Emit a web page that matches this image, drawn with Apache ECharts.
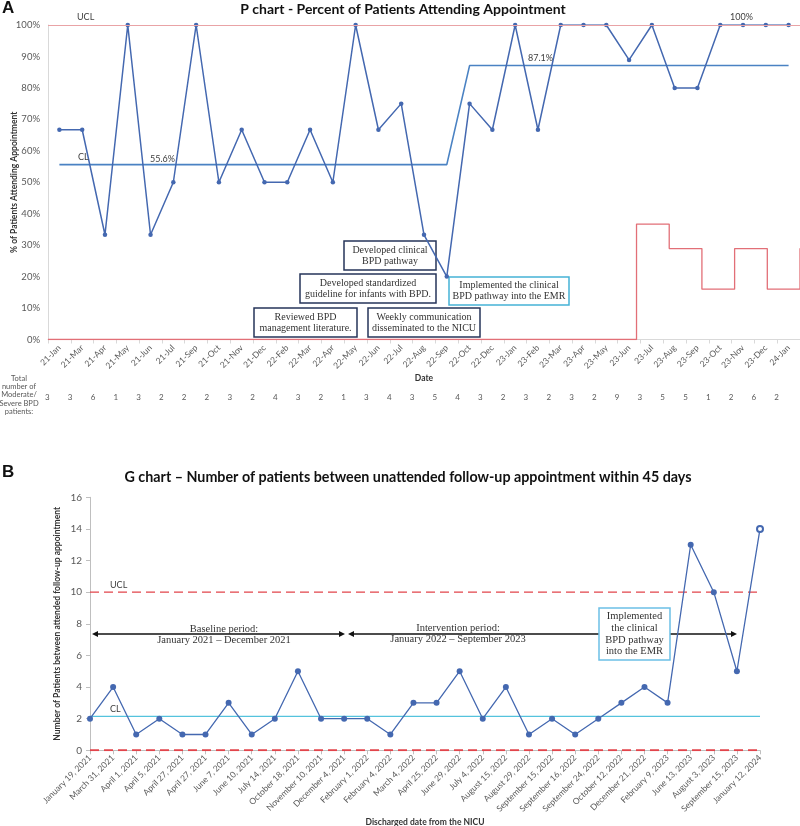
<!DOCTYPE html>
<html><head><meta charset="utf-8">
<script src="https://cdn.jsdelivr.net/npm/echarts/dist/echarts.min.js"></script>
<style>html,body{margin:0;padding:0;background:#fff}#c{width:800px;height:826px}</style>
</head><body><div id="c"></div>
<script>
// ---------- Panel A data (P chart) ----------
const pCategories = ['21-Jan','21-Mar','21-Apr','21-May','21-Jun','21-Jul','21-Sep','21-Oct','21-Nov','21-Dec','22-Feb','22-Mar','22-Apr','22-May','22-Jun','22-Jul','22-Aug','22-Sep','22-Oct','22-Dec','23-Jan','23-Feb','23-Mar','23-Apr','23-May','23-Jun','23-Jul','23-Aug','23-Sep','23-Oct','23-Nov','23-Dec','24-Jan'];
const pValues = [66.7,66.7,33.3,100,33.3,50,100,50,66.7,50,50,66.7,50,100,66.7,75,33.3,20,75,66.7,100,66.7,100,100,100,88.9,100,80,80,100,100,100,100];
const pCL = [55.6,55.6,55.6,55.6,55.6,55.6,55.6,55.6,55.6,55.6,55.6,55.6,55.6,55.6,55.6,55.6,55.6,55.6,87.1,87.1,87.1,87.1,87.1,87.1,87.1,87.1,87.1,87.1,87.1,87.1,87.1,87.1,87.1];
const pUCL = 100;
const pLCL = [0,0,0,0,0,0,0,0,0,0,0,0,0,0,0,0,0,0,0,36.7,28.9,16,28.9,16,28.9];
const pTotals = [3,3,6,1,3,2,2,2,3,2,4,3,2,1,3,4,3,5,4,3,2,3,2,3,2,9,3,5,5,1,2,6,2];

// ---------- Panel B data (G chart) ----------
const gCategories = ['January 19, 2021','March 31, 2021','April 1, 2021','April 5, 2021','April 27, 2021','April 27, 2021','June 7, 2021','June 10, 2021','July 14, 2021','October 18, 2021','November 10, 2021','December 4, 2021','February 1, 2022','February 4, 2022','March 4, 2022','April 25, 2022','June 29, 2022','July 4, 2022','August 15, 2022','August 29, 2022','September 15, 2022','September 16, 2022','September 24, 2022','October 12, 2022','December 21, 2022','February 9, 2023','June 13, 2023','August 3, 2023','September 15, 2023','January 12, 2024'];
const gValues = [2,4,1,2,1,1,3,1,2,5,2,2,2,1,3,3,5,2,4,1,2,1,2,3,4,3,13,10,5,14];
const gCL = 2.15;
const gUCL = 10;
const gLCL = 0;

const FONT = 'Lato';
const SERIF = 'Liberation Serif';
const GREY = '#595959';

function box(x, y, w, h, text, color, fs, lh) {
  return {
    type: 'group', z: 1, children: [
      {type: 'rect', shape: {x: x, y: y, width: w, height: h}, style: {fill: '#fff', stroke: color, lineWidth: 1.5}},
      {type: 'text', style: {x: x + w / 2, y: y + h / 2, text: text, align: 'center', verticalAlign: 'middle', font: fs + 'px ' + SERIF, fill: '#333', lineHeight: lh}}
    ]
  };
}
function txt(x, y, text, size, opts) {
  opts = opts || {};
  return {type: 'text', z: 5, style: Object.assign({x: x, y: y, text: text, align: 'left', verticalAlign: 'middle', font: (opts.weight || 'normal') + ' ' + size + 'px ' + (opts.family || FONT), fill: opts.fill || '#404040'}, opts.extra || {})};
}
function arrow(x1, x2, y) {
  const hs = 6, hw = 3;
  return {
    type: 'group', z: 1, children: [
      {type: 'line', shape: {x1: x1 + 3, y1: y, x2: x2 - 3, y2: y}, style: {stroke: '#111', lineWidth: 1.3}},
      {type: 'polygon', shape: {points: [[x1, y], [x1 + hs, y - hw], [x1 + hs, y + hw]]}, style: {fill: '#111'}},
      {type: 'polygon', shape: {points: [[x2, y], [x2 - hs, y - hw], [x2 - hs, y + hw]]}, style: {fill: '#111'}}
    ]
  };
}
function constLine(name, v, color, width, type) {
  return {type: 'line', name: name, xAxisIndex: 3, yAxisIndex: 1, data: gCategories.map(() => v), showSymbol: false, silent: true,
    lineStyle: {color: color, width: width, type: type}, z: 2};
}
const nameStyle = {fontFamily: FONT, fontWeight: 'bold', fontSize: 8.5, color: '#333'};

const chart = echarts.init(document.getElementById('c'));
chart.setOption({
  animation: false,
  grid: [
    {left: 48, top: 25, width: 752, height: 314.5, outerBoundsMode: 'none', containLabel: false},
    {left: 90, top: 497.3, width: 670, height: 253, outerBoundsMode: 'none', containLabel: false}
  ],
  xAxis: [
    {type: 'category', gridIndex: 0, data: pCategories, boundaryGap: true,
      name: 'Date', nameLocation: 'middle', nameGap: 34, nameMoveOverlap: false, nameTextStyle: nameStyle,
      axisLine: {lineStyle: {color: '#d9d9d9'}}, axisTick: {show: true, length: 4, lineStyle: {color: '#d9d9d9'}},
      axisLabel: {interval: 0, rotate: 45, fontFamily: FONT, fontSize: 8.5, color: GREY, margin: 7}},
    {type: 'category', gridIndex: 0, data: pTotals.map(String), position: 'bottom', offset: 46, boundaryGap: true,
      axisLine: {show: false}, axisTick: {show: false},
      axisLabel: {interval: 0, fontFamily: FONT, fontSize: 8, color: GREY, padding: [0, 24, 0, 0]}},
    {type: 'value', gridIndex: 0, min: 0, max: 23, show: false},
    {type: 'category', gridIndex: 1, data: gCategories, boundaryGap: false,
      name: 'Discharged date from the NICU', nameLocation: 'middle', nameGap: 67, nameMoveOverlap: false, nameTextStyle: nameStyle,
      axisLine: {lineStyle: {color: '#bfbfbf'}}, axisTick: {show: true, length: 4, alignWithLabel: true, lineStyle: {color: '#bfbfbf'}},
      axisLabel: {interval: 0, rotate: 45, fontFamily: FONT, fontSize: 8.5, color: GREY, margin: 6}}
  ],
  yAxis: [
    {type: 'value', gridIndex: 0, min: 0, max: 100, interval: 10,
      name: '% of Patients Attending Appointment', nameLocation: 'middle', nameGap: 29, nameMoveOverlap: false, nameTextStyle: nameStyle,
      axisLine: {show: true, lineStyle: {color: '#d9d9d9'}}, axisTick: {show: false}, splitLine: {show: false},
      axisLabel: {fontFamily: FONT, fontSize: 9.5, color: GREY, formatter: '{value}%', margin: 8}},
    {type: 'value', gridIndex: 1, min: 0, max: 16, interval: 2,
      name: 'Number of Patients between attended follow-up appointment', nameLocation: 'middle', nameGap: 28, nameMoveOverlap: false, nameTextStyle: nameStyle,
      axisLine: {show: true, lineStyle: {color: '#bfbfbf'}}, axisTick: {show: true, length: 4, lineStyle: {color: '#bfbfbf'}}, splitLine: {show: false},
      axisLabel: {fontFamily: FONT, fontSize: 10, color: GREY, margin: 8}}
  ],
  series: [
    {type: 'line', name: 'LCL', xAxisIndex: 2, yAxisIndex: 0, data: pLCL.map((v, i) => [i, v]), step: 'start', showSymbol: false, silent: true,
      lineStyle: {color: '#e26f77', width: 1.3}, z: 2},
    {type: 'line', name: 'CL', xAxisIndex: 0, yAxisIndex: 0, data: pCL, showSymbol: false, silent: true,
      lineStyle: {color: '#4a82c3', width: 1.6}, z: 3},
    {type: 'line', name: 'P', xAxisIndex: 0, yAxisIndex: 0, data: pValues, symbol: 'circle', symbolSize: 4.5,
      itemStyle: {color: '#4468b0'}, lineStyle: {color: '#4468b0', width: 1.5}, z: 4,
      markLine: {silent: true, symbol: 'none', label: {show: false}, lineStyle: {color: '#e9a3a6', width: 1, type: 'solid'}, data: [{yAxis: pUCL}]}},
    constLine('G CL', gCL, '#55c3dd', 1.2, 'solid'),
    constLine('G UCL', gUCL, '#e2444b', 1.3, [9, 5]),
    constLine('G LCL', gLCL, '#e2444b', 2, [9, 5]),
    {type: 'line', name: 'G', xAxisIndex: 3, yAxisIndex: 1, symbol: 'circle', symbolSize: 6,
      data: gValues.map((v, i) => i === gValues.length - 1 ? {value: v, symbol: 'emptyCircle', symbolSize: 6} : v),
      itemStyle: {color: '#4468b0'}, lineStyle: {color: '#4468b0', width: 1.3}, z: 4}
  ],
  graphic: [
    txt(2, 8, 'A', 17, {weight: 'bold', family: 'Liberation Sans', fill: '#111'}),
    txt(403, 9, 'P chart - Percent of Patients Attending Appointment', 14, {weight: 'bold', fill: '#111', extra: {align: 'center'}}),
    txt(77, 17, 'UCL', 9),
    txt(78, 157, 'CL', 9),
    txt(150, 159, '55.6%', 9),
    txt(528, 58, '87.1%', 9),
    txt(730, 17, '100%', 9),
    {type: 'text', z: 5, style: {x: 19, y: 374, text: 'Total\nnumber of\nModerate/\nSevere BPD\npatients:', align: 'center', verticalAlign: 'top', font: '7.5px ' + FONT, fill: GREY, lineHeight: 8.4}},
    box(254, 308, 103, 29, 'Reviewed BPD\nmanagement literature.', '#263559', 10, 11),
    box(300, 274, 136, 29, 'Developed standardized\nguideline for infants with BPD.', '#263559', 10, 11),
    box(344, 241, 92, 29, 'Developed clinical\nBPD pathway', '#263559', 10, 11),
    box(368, 308, 112, 29, 'Weekly communication\ndisseminated to the NICU', '#263559', 10, 11),
    box(449, 277, 120, 28, 'Implemented the clinical\nBPD pathway into the EMR', '#45b3d6', 10, 11),

    txt(2, 472, 'B', 17, {weight: 'bold', family: 'Liberation Sans', fill: '#111'}),
    txt(408, 477, 'G chart \u2013 Number of patients between unattended follow-up appointment within 45 days', 14.3, {weight: 'bold', fill: '#111', extra: {align: 'center'}}),
    txt(110, 585, 'UCL', 9),
    txt(110, 709, 'CL', 9),
    arrow(92, 345, 634),
    arrow(348, 737, 634),
    {type: 'text', z: 5, style: {x: 224, y: 629, text: 'Baseline period:', align: 'center', verticalAlign: 'middle', font: '10.5px ' + SERIF, fill: '#333'}},
    {type: 'text', z: 5, style: {x: 224, y: 640, text: 'January 2021 \u2013 December 2021', align: 'center', verticalAlign: 'middle', font: '10.5px ' + SERIF, fill: '#333'}},
    {type: 'text', z: 5, style: {x: 458, y: 628, text: 'Intervention period:', align: 'center', verticalAlign: 'middle', font: '10.5px ' + SERIF, fill: '#333'}},
    {type: 'text', z: 5, style: {x: 458, y: 639, text: 'January 2022 \u2013 September 2023', align: 'center', verticalAlign: 'middle', font: '10.5px ' + SERIF, fill: '#333'}},
    box(599, 608, 71, 52, 'Implemented\nthe clinical\nBPD pathway\ninto the EMR', '#6cc0e6', 10.5, 11.7)
  ]
});
</script></body></html>
